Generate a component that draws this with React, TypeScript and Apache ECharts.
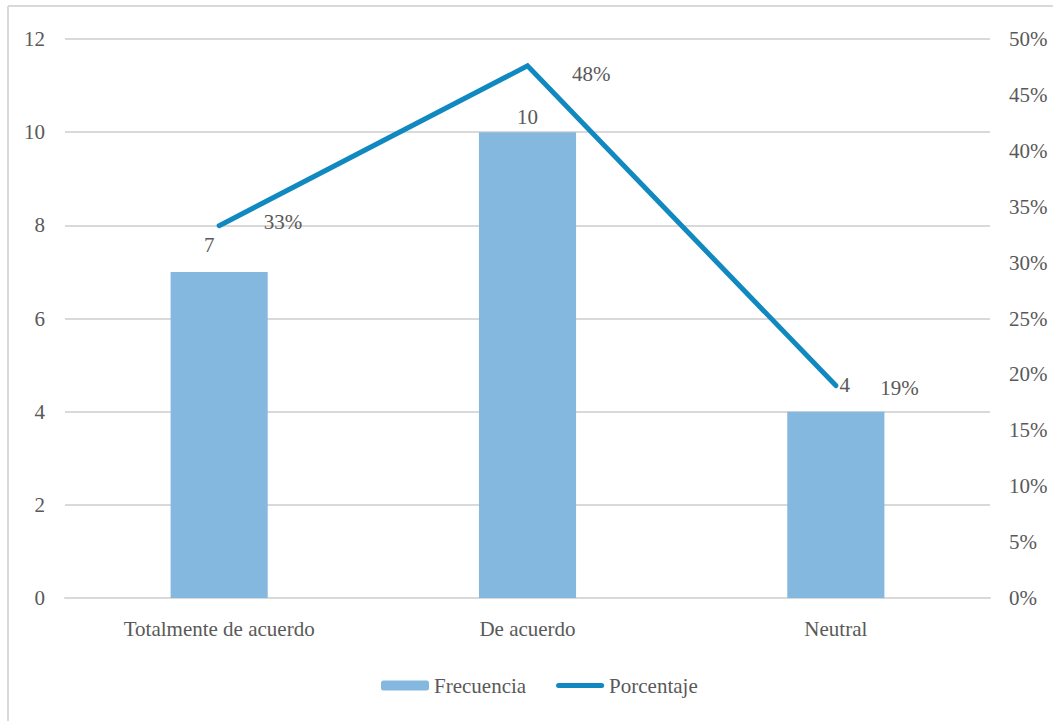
import React, { useEffect, useRef } from "react";
import * as echarts from "echarts";

const categories = ["Totalmente de acuerdo", "De acuerdo", "Neutral"];
const frecuencia = [7, 10, 4];
const porcentaje = [0.333, 0.476, 0.19];
const countTicks = [0, 2, 4, 6, 8, 10, 12];
const percentTicks = [0, 0.05, 0.1, 0.15, 0.2, 0.25, 0.3, 0.35, 0.4, 0.45, 0.5];

// per-point nudges for the value labels
const barLabelOffsets: [number, number][] = [[-10, -11], [0, 0], [9, -11]];
const lineLabelOffsets: [number, number][] = [[0, -4], [0, 8], [0, 2]];

const FONT = "'Liberation Serif', 'Times New Roman', serif";
const TEXT = "#595959";
const GRID = "#D9D9D9";
const LINE = "#1088C0";

export default function App() {
  const ref = useRef<HTMLDivElement>(null);

  useEffect(() => {
    if (!ref.current) return;
    const chart = echarts.init(ref.current, undefined, { renderer: "svg" });
    const textStyle = { fontFamily: FONT, fontSize: 21, color: TEXT };
    chart.setOption({
      animation: false,
      backgroundColor: "#ffffff",
      textStyle: { fontFamily: FONT },
      graphic: [
        { type: "line", shape: { x1: 8, y1: 6, x2: 8, y2: 721 }, style: { stroke: GRID, lineWidth: 2 } },
        { type: "line", shape: { x1: 8, y1: 6, x2: 1053, y2: 6 }, style: { stroke: GRID, lineWidth: 2 } },
      ],
      grid: { left: 65, right: 63, top: 39, bottom: 123 },
      legend: {
        bottom: 20,
        left: 376,
        itemWidth: 48,
        itemHeight: 10,
        itemGap: 30,
        textStyle: { ...textStyle },
        data: [
          { name: "Frecuencia" },
          { name: "Porcentaje", icon: "path://M2.5,0 L45.5,0 A2.5,2.5 0 0 1 45.5,5 L2.5,5 A2.5,2.5 0 0 1 2.5,0 Z", itemStyle: { color: LINE } },
        ],
      },
      xAxis: {
        type: "category",
        data: categories,
        axisTick: { show: false },
        axisLine: { lineStyle: { color: GRID, width: 2 } },
        axisLabel: { ...textStyle, margin: 20 },
      },
      yAxis: [
        {
          type: "value",
          min: countTicks[0],
          max: countTicks[countTicks.length - 1],
          interval: countTicks[1] - countTicks[0],
          axisLine: { show: false },
          axisTick: { show: false },
          splitLine: { lineStyle: { color: GRID, width: 2 } },
          axisLabel: { ...textStyle, margin: 20 },
        },
        {
          type: "value",
          min: percentTicks[0],
          max: percentTicks[percentTicks.length - 1],
          interval: percentTicks[1] - percentTicks[0],
          axisLine: { show: false },
          axisTick: { show: false },
          splitLine: { show: false },
          axisLabel: {
            ...textStyle,
            margin: 19,
            formatter: (v: number) => `${Math.round(v * 100)}%`,
          },
        },
      ],
      series: [
        {
          name: "Frecuencia",
          type: "bar",
          yAxisIndex: 0,
          barWidth: "31.5%",
          itemStyle: { color: "#85B8DF" },
          data: frecuencia.map((v, i) => ({
            value: v,
            label: { offset: barLabelOffsets[i] },
          })),
          label: {
            show: true,
            position: "top",
            distance: 5,
            ...textStyle,
          },
        },
        {
          name: "Porcentaje",
          type: "line",
          yAxisIndex: 1,
          symbol: "circle",
          symbolSize: 1,
          showSymbol: true,
          lineStyle: { color: LINE, width: 5, cap: "round", join: "miter" },
          itemStyle: { color: LINE },
          data: porcentaje.map((v, i) => ({
            value: v,
            label: { offset: lineLabelOffsets[i] },
          })),
          label: {
            show: true,
            position: "right",
            distance: 44,
            ...textStyle,
            formatter: (p: any) => `${Math.round(p.value * 100)}%`,
          },
        },
      ],
    });
    return () => chart.dispose();
  }, []);

  return (
    <div
      ref={ref}
      style={{ position: "fixed", left: 0, top: 0, width: 1053, height: 721 }}
    />
  );
}
